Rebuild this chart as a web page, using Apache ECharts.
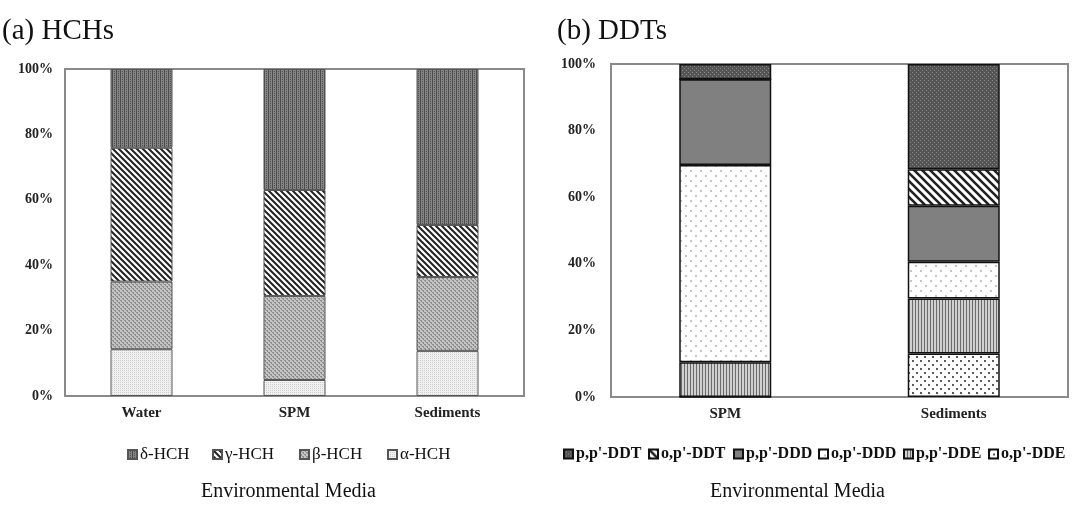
<!DOCTYPE html>
<html><head><meta charset="utf-8">
<script src="https://cdn.jsdelivr.net/npm/echarts@6/dist/echarts.min.js"></script>
<style>html,body{margin:0;padding:0;background:#fff}#c{width:1073px;height:507px}</style>
</head><body><div id="c"></div>
<script>
// ---- data ----
const hchCategories = ['Water', 'SPM', 'Sediments'];
const alphaHCH = [14.3, 4.9, 13.8];
const betaHCH  = [20.7, 25.7, 22.6];
const gammaHCH = [40.9, 32.4, 15.9];
const deltaHCH = [24.1, 37.0, 47.7];

const ddtCategories = ['SPM', 'Sediments'];
const opDDE = [0, 13.1];
const ppDDE = [10.4, 16.5];
const opDDD = [59.3, 11.0];
const ppDDD = [25.7, 16.8];
const opDDT = [0, 11.0];
const ppDDT = [4.6, 31.6];

const yTicks = [0, 20, 40, 60, 80, 100];
const hchLegend = ['δ-HCH', 'γ-HCH', 'β-HCH', 'α-HCH'];
const ddtLegend = ["p,p'-DDT", "o,p'-DDT", "p,p'-DDD", "o,p'-DDD", "p,p'-DDE", "o,p'-DDE"];

// ---- patterns ----
function pat(size, draw) {
  const c = document.createElement('canvas');
  c.width = size; c.height = size;
  const g = c.getContext('2d');
  draw(g, size);
  return { image: c, repeat: 'repeat' };
}
function dots(base, dot, step, r, stagger) {
  return pat(step * 2, (g, s) => {
    g.fillStyle = base; g.fillRect(0, 0, s, s);
    g.fillStyle = dot;
    g.fillRect(0, 0, r, r);
    if (stagger) g.fillRect(step, step, r, r);
    else { g.fillRect(step, 0, r, r); g.fillRect(0, step, r, r); g.fillRect(step, step, r, r); }
  });
}
function diag(period, lw) {
  return pat(period, (g, s) => {
    g.fillStyle = '#fff'; g.fillRect(0, 0, s, s);
    g.strokeStyle = '#222'; g.lineWidth = lw;
    g.beginPath();
    g.moveTo(-s, -s); g.lineTo(s * 2, s * 2);
    g.moveTo(-s, 0); g.lineTo(s, s * 2);
    g.moveTo(0, -s); g.lineTo(s * 2, s);
    g.stroke();
  });
}
const P = {
  delta: pat(4, (g) => { g.fillStyle = '#858585'; g.fillRect(0,0,4,4); g.fillStyle = '#4c4c4c'; g.fillRect(0,0,1,4); g.fillRect(2,1,1,1); g.fillRect(2,3,1,1); }),
  gamma: diag(6, 2),
  beta: pat(4, (g) => { g.fillStyle = '#c4c4c4'; g.fillRect(0,0,4,4); g.fillStyle = '#8c8c8c'; g.fillRect(0,0,2,1); g.fillRect(2,2,2,1); g.fillRect(1,1,1,1); g.fillRect(3,3,1,1); }),
  alpha: dots('#f0f0f0', '#cfcfcf', 2, 1, false),
  ppDDT: pat(4, (g) => { g.fillStyle = '#555555'; g.fillRect(0,0,4,4); g.fillStyle = '#8a8a8a'; g.fillRect(0,0,1,1); g.fillRect(2,2,1,1); }),
  opDDT: diag(8, 2.6),
  ppDDD: '#808080',
  opDDD: dots('#ffffff', '#c4c4c4', 5, 2, true),
  ppDDE: pat(3, (g) => { g.fillStyle = '#d0d0d0'; g.fillRect(0,0,3,3); g.fillStyle = '#6a6a6a'; g.fillRect(0,0,1,3); }),
  opDDE: dots('#ffffff', '#5a5a5a', 4, 2, true)
};

const serif = '"Liberation Serif", "Times New Roman", serif';

function hSeries(name, data, color) {
  return { name, type: 'bar', stack: 'h', xAxisIndex: 0, yAxisIndex: 0, data, barWidth: 62,
    itemStyle: { color, borderColor: '#555', borderWidth: 1 } };
}
function dSeries(name, data, color) {
  return { name, type: 'bar', stack: 'd', xAxisIndex: 1, yAxisIndex: 1, data, barWidth: 92,
    itemStyle: { color, borderColor: '#111', borderWidth: 1.5 } };
}
const hchLegendX = [127, 212, 299, 387];
const ddtLegendX = [563, 648, 733, 818, 903, 988];
function legendItem(name, x, textStyle) {
  return { data: [name], left: x, top: 446, padding: 0, itemWidth: 9, itemHeight: 9, itemGap: 0,
    icon: 'rect', selectedMode: false, textStyle };
}
const legends = [];
hchLegend.forEach((n, i) => legends.push(legendItem(n, hchLegendX[i], { fontFamily: serif, fontSize: 17, color: '#111', padding: [0, 0, 0, -2] })));
ddtLegend.forEach((n, i) => legends.push(legendItem(n, ddtLegendX[i], { fontFamily: serif, fontSize: 16, fontWeight: 'bold', color: '#111', padding: [0, 0, 0, -2] })));

const chart = echarts.init(document.getElementById('c'), null, { renderer: 'canvas' });
const axisLabelY = { formatter: '{value}%', fontFamily: serif, fontWeight: 'bold', fontSize: 14, color: '#222' };
const tStyle = (size) => ({ fontFamily: serif, fontWeight: 'normal', fontSize: size, color: '#111' });
chart.setOption({
  animation: false,
  backgroundColor: '#fff',
  title: [
    { text: '(a) HCHs', left: 2, top: 17, padding: 0, textStyle: tStyle(29) },
    { text: '(b) DDTs', left: 557, top: 17, padding: 0, textStyle: tStyle(29) },
    { text: 'Environmental Media', left: 201, top: 482, padding: 0, textStyle: tStyle(20) },
    { text: 'Environmental Media', left: 710, top: 482, padding: 0, textStyle: tStyle(20) }
  ],
  grid: [
    { left: 65, right: 549, top: 69, bottom: 111, show: true, borderColor: '#8a8a8a', borderWidth: 2, containLabel: false },
    { left: 611, right: 5, top: 64, bottom: 110, show: true, borderColor: '#8a8a8a', borderWidth: 2, containLabel: false }
  ],
  legend: legends,
  xAxis: [
    { type: 'category', gridIndex: 0, data: hchCategories, axisTick: { show: false },
      axisLine: { lineStyle: { color: '#8a8a8a', width: 2 } },
      axisLabel: { fontFamily: serif, fontWeight: 'bold', fontSize: 15, color: '#222', margin: 10 } },
    { type: 'category', gridIndex: 1, data: ddtCategories, axisTick: { show: false },
      axisLine: { lineStyle: { color: '#8a8a8a', width: 2 } },
      axisLabel: { fontFamily: serif, fontWeight: 'bold', fontSize: 15, color: '#222', margin: 10 } }
  ],
  yAxis: [
    { type: 'value', gridIndex: 0, min: yTicks[0], max: yTicks[yTicks.length - 1], interval: 20, splitLine: { show: false },
      axisLine: { show: true, lineStyle: { color: '#8a8a8a', width: 2 } }, axisTick: { show: false }, axisLabel: Object.assign({ margin: 12 }, axisLabelY) },
    { type: 'value', gridIndex: 1, min: yTicks[0], max: yTicks[yTicks.length - 1], interval: 20, splitLine: { show: false },
      axisLine: { show: true, lineStyle: { color: '#8a8a8a', width: 2 } }, axisTick: { show: false }, axisLabel: Object.assign({ margin: 15 }, axisLabelY) }
  ],
  series: [
    hSeries('α-HCH', alphaHCH, P.alpha),
    hSeries('β-HCH', betaHCH, P.beta),
    hSeries('γ-HCH', gammaHCH, P.gamma),
    hSeries('δ-HCH', deltaHCH, P.delta),
    dSeries("o,p'-DDE", opDDE, P.opDDE),
    dSeries("p,p'-DDE", ppDDE, P.ppDDE),
    dSeries("o,p'-DDD", opDDD, P.opDDD),
    dSeries("p,p'-DDD", ppDDD, P.ppDDD),
    dSeries("o,p'-DDT", opDDT, P.opDDT),
    dSeries("p,p'-DDT", ppDDT, P.ppDDT)
  ]
});
</script></body></html>
